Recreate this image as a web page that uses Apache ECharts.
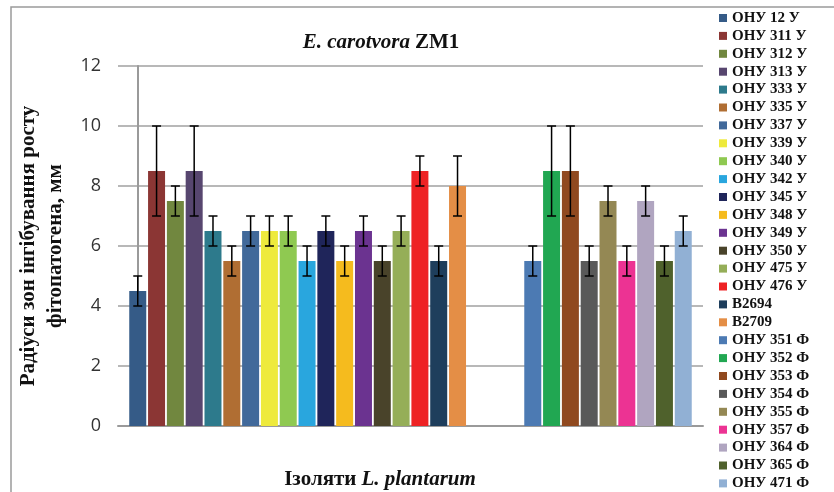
<!DOCTYPE html>
<html>
<head>
<meta charset="utf-8">
<script src="https://cdn.jsdelivr.net/npm/echarts@6/dist/echarts.min.js"></script>
<style>
  html, body { margin: 0; padding: 0; background: #fff; }
  #chart { width: 834px; height: 492px; }
</style>
</head>
<body>
<div id="chart"></div>
<script>
// isolates in slot order, null = empty slot between the two groups
const isolates = [
  'ОНУ 12 У', 'ОНУ 311 У', 'ОНУ 312 У', 'ОНУ 313 У', 'ОНУ 333 У', 'ОНУ 335 У',
  'ОНУ 337 У', 'ОНУ 339 У', 'ОНУ 340 У', 'ОНУ 342 У', 'ОНУ 345 У', 'ОНУ 348 У',
  'ОНУ 349 У', 'ОНУ 350 У', 'ОНУ 475 У', 'ОНУ 476 У', 'B2694', 'B2709',
  null, null, null,
  'ОНУ 351 Ф', 'ОНУ 352 Ф', 'ОНУ 353 Ф', 'ОНУ 354 Ф', 'ОНУ 355 Ф',
  'ОНУ 357 Ф', 'ОНУ 364 Ф', 'ОНУ 365 Ф', 'ОНУ 471 Ф'
]
const means = [
  4.5, 8.5, 7.5, 8.5, 6.5, 5.5, 6.5, 6.5, 6.5, 5.5, 6.5, 5.5, 6.5, 5.5, 6.5, 8.5, 5.5, 8,
  null, null, null,
  5.5, 8.5, 8.5, 5.5, 7.5, 5.5, 7.5, 5.5, 6.5
]
const errors = [
  0.5, 1.5, 0.5, 1.5, 0.5, 0.5, 0.5, 0.5, 0.5, 0.5, 0.5, 0.5, 0.5, 0.5, 0.5, 0.5, 0.5, 1,
  null, null, null,
  0.5, 1.5, 1.5, 0.5, 0.5, 0.5, 0.5, 0.5, 0.5
]
const colors = [
  '#355b87', '#8b3634', '#71873f', '#57466f', '#2d7a8c', '#b06e33',
  '#41699a', '#eeea3c', '#8fc951', '#29a6de', '#1f255a', '#f5bb1e',
  '#6b3390', '#49432a', '#95ae58', '#ee2224', '#1e3e5c', '#e48e46',
  null, null, null,
  '#4c7ab3', '#21a752', '#90491f', '#595959', '#948854',
  '#ec3393', '#b0a5c0', '#4f612c', '#91b0d4'
]
const yTicks = { min: 0, max: 12, step: 2 }

const serif = '"Liberation Serif", "DejaVu Serif", serif'

const chart = echarts.init(document.getElementById('chart'))

const barSeries = []
const errData = []
isolates.forEach((name, i) => {
  if (name === null) return
  barSeries.push({
    name: name,
    type: 'bar',
    barWidth: 17,
    barGap: '-100%',
    itemStyle: { color: colors[i] },
    data: [[i, means[i]]]
  })
  errData.push([i, means[i] - errors[i], means[i] + errors[i]])
})

chart.setOption({
  animation: false,
  graphic: [{
    type: 'rect',
    shape: { x: 11, y: 7, width: 900, height: 600 },
    style: { fill: 'none', stroke: '#9a9a9a', lineWidth: 1.5 },
    silent: true
  }],
  title: [
    {
      text: '{i|E. carotvora} {b|ZM1}',
      left: 376, top: 27, textAlign: 'center',
      textStyle: {
        rich: {
          i: { fontFamily: serif, fontStyle: 'italic', fontWeight: 'bold', fontSize: 21, color: '#111' },
          b: { fontFamily: serif, fontWeight: 'bold', fontSize: 21, color: '#111' }
        }
      }
    },
    {
      text: '{b|Ізоляти} {i|L. plantarum}',
      left: 375, top: 464, textAlign: 'center',
      textStyle: {
        rich: {
          i: { fontFamily: serif, fontStyle: 'italic', fontWeight: 'bold', fontSize: 21, color: '#111' },
          b: { fontFamily: serif, fontWeight: 'bold', fontSize: 21, color: '#111' }
        }
      }
    }
  ],
  legend: {
    orient: 'vertical',
    left: 719, top: 10.5,
    padding: 0,
    icon: 'rect',
    itemWidth: 8, itemHeight: 8,
    itemGap: 2.9,
    textStyle: { fontFamily: serif, fontWeight: 'bold', fontSize: 15, color: '#111' },
    data: isolates.filter(n => n !== null)
  },
  grid: { left: 118, top: 66, width: 585, bottom: 66 },
  xAxis: {
    type: 'value',
    min: -1.05, max: 30.05,
    axisLine: { show: true, onZero: false, lineStyle: { color: '#9a9a9a', width: 2 } },
    axisTick: { show: false },
    axisLabel: { show: false },
    splitLine: { show: false }
  },
  yAxis: {
    type: 'value',
    min: yTicks.min, max: yTicks.max, interval: yTicks.step,
    name: 'Радіуси зон інгібування росту\nфітопатогена, мм',
    nameLocation: 'middle',
    nameRotate: 90,
    nameGap: 45,
    nameTextStyle: { fontFamily: serif, fontWeight: 'bold', fontSize: 21, lineHeight: 27, color: '#111' },
    axisLine: { show: true, lineStyle: { color: '#9a9a9a', width: 2 } },
    axisTick: { show: false },
    axisLabel: { margin: 17, fontFamily: '"Open Sans", sans-serif', fontSize: 18, color: '#333' },
    splitLine: { lineStyle: { color: '#a0a0a0', width: 1.5 } }
  },
  series: barSeries.concat([{
    type: 'custom',
    name: 'err',
    silent: true,
    z: 10,
    data: errData,
    renderItem: (params, api) => {
      const x = api.value(0)
      const lo = api.coord([x, api.value(1)])
      const hi = api.coord([x, api.value(2)])
      const cap = 4.5
      const st = { stroke: '#000', lineWidth: 1.5 }
      return {
        type: 'group',
        children: [
          { type: 'line', shape: { x1: lo[0], y1: lo[1], x2: hi[0], y2: hi[1] }, style: st },
          { type: 'line', shape: { x1: lo[0] - cap, y1: lo[1], x2: lo[0] + cap, y2: lo[1] }, style: st },
          { type: 'line', shape: { x1: hi[0] - cap, y1: hi[1], x2: hi[0] + cap, y2: hi[1] }, style: st }
        ]
      }
    }
  }])
})
</script>
</body>
</html>
